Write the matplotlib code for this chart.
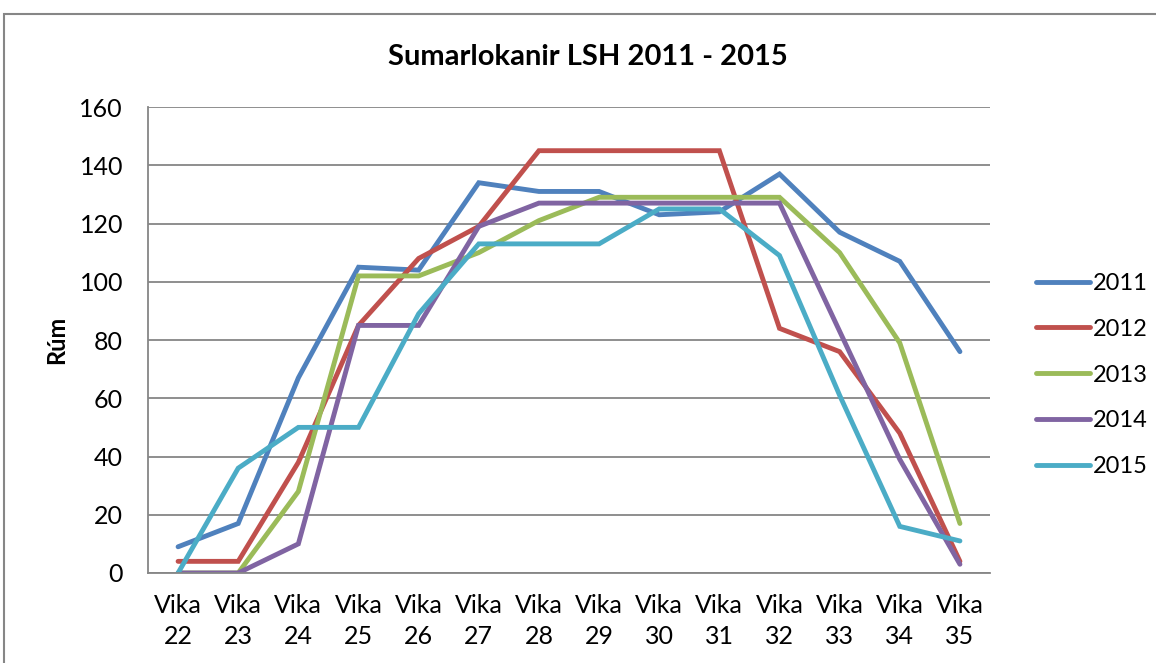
import matplotlib
matplotlib.use("Agg")
import matplotlib.pyplot as plt
from matplotlib.patches import Rectangle

plt.rcParams['font.family'] = ['Lato', 'DejaVu Sans']

weeks = ["Vika\n22", "Vika\n23", "Vika\n24", "Vika\n25", "Vika\n26", "Vika\n27", "Vika\n28",
         "Vika\n29", "Vika\n30", "Vika\n31", "Vika\n32", "Vika\n33", "Vika\n34", "Vika\n35"]
y2011 = [9, 17, 67, 105, 104, 134, 131, 131, 123, 124, 137, 117, 107, 76]
y2012 = [4, 4, 38, 85, 108, 119, 145, 145, 145, 145, 84, 76, 48, 4]
y2013 = [0, 0, 28, 102, 102, 110, 121, 129, 129, 129, 129, 110, 79, 17]
y2014 = [0, 0, 10, 85, 85, 119, 127, 127, 127, 127, 127, 83, 39, 3]
y2015 = [0, 36, 50, 50, 89, 113, 113, 113, 125, 125, 109, 61, 16, 11]
years = ["2011", "2012", "2013", "2014", "2015"]
colors = ["#4F81BD", "#C0504D", "#9BBB59", "#8064A2", "#4BACC6"]

fig = plt.figure(figsize=(11.56, 6.63), dpi=100)
ax = fig.add_axes([148/1156, 1-573/663, (990-148)/1156, (573-107)/663])

x = list(range(len(weeks)))
for ys, lab, c in zip([y2011, y2012, y2013, y2014, y2015], years, colors):
    ax.plot(x, ys, color=c, lw=3.5, label=lab, solid_capstyle='round', solid_joinstyle='miter')

ax.set_xlim(-0.5, len(weeks)-0.5)
ax.set_ylim(0, 160)
ax.set_yticks(range(0, 161, 20))
ax.set_xticks(x)
ax.set_xticklabels(weeks, linespacing=1.45)
ax.tick_params(axis='both', length=0, labelsize=18)
ax.tick_params(axis='y', pad=18)
ax.tick_params(axis='x', pad=15)
ax.grid(axis='y', color='#868686', lw=1.3)
ax.set_axisbelow(True)
for s in ['top', 'right']:
    ax.spines[s].set_visible(False)
for s in ['left', 'bottom']:
    ax.spines[s].set_color('#868686')
    ax.spines[s].set_linewidth(1.3)

ax.set_ylabel("Rúm", fontsize=17, fontweight='bold', labelpad=8)
fig.text(588/1156, 1-57/663, "Sumarlokanir LSH 2011 - 2015", fontsize=21, fontweight='bold',
         ha='center', va='center')

ax.legend(loc='center left', bbox_to_anchor=(1024/1156, 1-375/663), bbox_transform=fig.transFigure,
          frameon=False, fontsize=17, handlelength=2.3, handletextpad=0.1, labelspacing=1.05,
          borderpad=0)

fig.patches.append(Rectangle((4/1156, -0.1), 1.2, 1.1-14/663, transform=fig.transFigure,
                             fill=False, edgecolor='#868686', lw=1.5))

fig.savefig("out.png", dpi=100)
